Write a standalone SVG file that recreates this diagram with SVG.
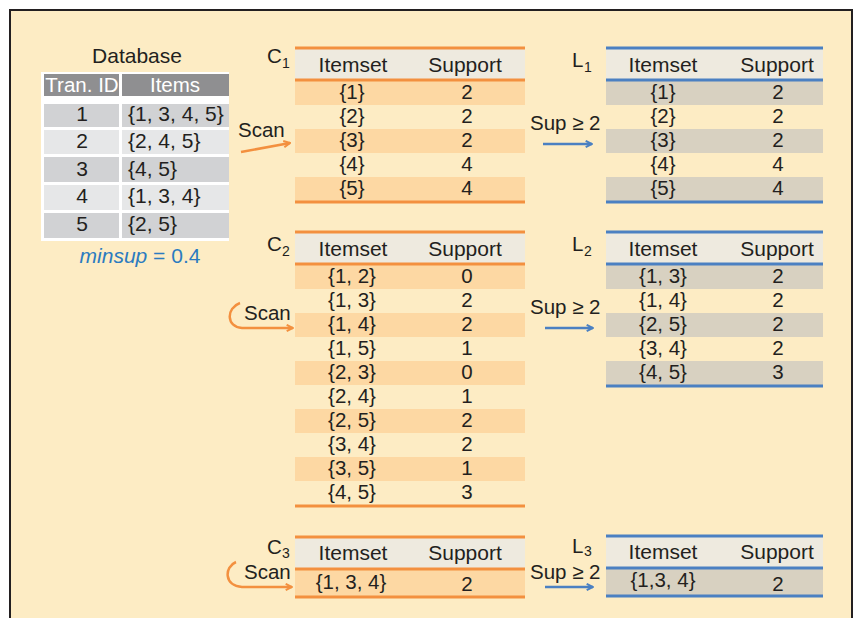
<svg xmlns="http://www.w3.org/2000/svg" width="862" height="618" viewBox="0 0 862 618">
  <style>
    text { font-family: "Liberation Sans", Arial, sans-serif; fill: #231f20; }
    .hd { font-size: 21px; text-anchor: middle; }
    .cell { font-size: 20.5px; text-anchor: middle; }
    .lbl { font-size: 20.5px; }
    .sub { font-size: 14px; }
    .db { font-size: 21px; }
    .dbh { font-size: 20.5px; fill: #ffffff; text-anchor: middle; }
    .hbg { fill: #eeeadf; }
    .orow { fill: #fdd8a3; }
    .grow { fill: #d8d1c1; }
    .oline { stroke: #f3903f; stroke-width: 3; }
    .bline { stroke: #4b80c2; stroke-width: 3; }
    .oarrow { fill: none; stroke: #f3903f; stroke-width: 2.5; }
    .barrow { fill: none; stroke: #4b80c2; stroke-width: 2.5; }
  </style>
  <defs>
    <marker id="headO" viewBox="0 0 10 10" refX="9" refY="5" markerWidth="9" markerHeight="9" orient="auto" markerUnits="userSpaceOnUse">
      <path d="M2,1.5 L9,5 L2,8.5" fill="none" stroke="#f3903f" stroke-width="2.2"/>
    </marker>
    <marker id="headB" viewBox="0 0 10 10" refX="9" refY="5" markerWidth="9" markerHeight="9" orient="auto" markerUnits="userSpaceOnUse">
      <path d="M2,1.5 L9,5 L2,8.5" fill="none" stroke="#4b80c2" stroke-width="2.2"/>
    </marker>
  </defs>

  <!-- panel -->
  <rect x="10" y="10" width="842" height="620" fill="#fdecc4" stroke="#231f20" stroke-width="2"/>

  <!-- transaction database -->
  <g id="database">
    <text class="db" x="137" y="63" text-anchor="middle">Database</text>
    <rect x="41" y="72" width="188" height="169" fill="#ffffff"/>
    <rect x="44" y="74" width="75" height="22" fill="#8f8f91"/>
    <rect x="122" y="74" width="107" height="22" fill="#8f8f91"/>
    <text class="dbh" x="82" y="92">Tran. ID</text>
    <text class="dbh" x="175" y="92">Items</text>
    <rect x="44" y="104" width="75" height="23" fill="#d1d2d4"/>
    <rect x="122" y="104" width="107" height="23" fill="#d1d2d4"/>
    <rect x="44" y="130" width="75" height="24" fill="#e6e7e8"/>
    <rect x="122" y="130" width="107" height="24" fill="#e6e7e8"/>
    <rect x="44" y="157" width="75" height="25" fill="#d1d2d4"/>
    <rect x="122" y="157" width="107" height="25" fill="#d1d2d4"/>
    <rect x="44" y="185" width="75" height="25" fill="#e6e7e8"/>
    <rect x="122" y="185" width="107" height="25" fill="#e6e7e8"/>
    <rect x="44" y="213" width="75" height="25" fill="#d1d2d4"/>
    <rect x="122" y="213" width="107" height="25" fill="#d1d2d4"/>
    <g class="db">
      <text x="82" y="121" text-anchor="middle">1</text><text x="128" y="121">{1, 3, 4, 5}</text>
      <text x="82" y="148" text-anchor="middle">2</text><text x="128" y="148">{2, 4, 5}</text>
      <text x="82" y="176" text-anchor="middle">3</text><text x="128" y="176">{4, 5}</text>
      <text x="82" y="203" text-anchor="middle">4</text><text x="128" y="203">{1, 3, 4}</text>
      <text x="82" y="231" text-anchor="middle">5</text><text x="128" y="231">{2, 5}</text>
    </g>
    <text x="140" y="263" text-anchor="middle" style="font-size:21px;fill:#2b7bc0"><tspan font-style="italic" style="fill:#2b7bc0">minsup</tspan> = 0.4</text>
  </g>

  <!-- C1 -->
  <g id="c1">
    <text class="lbl" x="267" y="63">C</text><text class="sub" x="282" y="68">1</text>
    <rect class="hbg" x="295" y="48" width="230" height="32"/>
    <rect class="orow" x="295" y="81" width="230" height="24"/>
    <rect class="orow" x="295" y="129" width="230" height="24"/>
    <rect class="orow" x="295" y="177" width="230" height="24"/>
    <line class="oline" x1="295" y1="48" x2="525" y2="48"/>
    <line class="oline" x1="295" y1="80" x2="525" y2="80"/>
    <line class="oline" x1="295" y1="202" x2="525" y2="202"/>
    <text class="hd" x="353" y="72">Itemset</text><text class="hd" x="465" y="72">Support</text>
    <text class="cell" x="352" y="99">{1}</text><text class="cell" x="467" y="99">2</text>
    <text class="cell" x="352" y="123">{2}</text><text class="cell" x="467" y="123">2</text>
    <text class="cell" x="352" y="147">{3}</text><text class="cell" x="467" y="147">2</text>
    <text class="cell" x="352" y="171">{4}</text><text class="cell" x="467" y="171">4</text>
    <text class="cell" x="352" y="195">{5}</text><text class="cell" x="467" y="195">4</text>
  </g>

  <!-- L1 -->
  <g id="l1">
    <text class="lbl" x="572" y="67">L</text><text class="sub" x="584" y="72">1</text>
    <rect class="hbg" x="606" y="48" width="217" height="32"/>
    <rect class="grow" x="606" y="81" width="217" height="24"/>
    <rect class="grow" x="606" y="129" width="217" height="24"/>
    <rect class="grow" x="606" y="177" width="217" height="24"/>
    <line class="bline" x1="606" y1="48" x2="823" y2="48"/>
    <line class="bline" x1="606" y1="80" x2="823" y2="80"/>
    <line class="bline" x1="606" y1="202" x2="823" y2="202"/>
    <text class="hd" x="663" y="72">Itemset</text><text class="hd" x="777" y="72">Support</text>
    <text class="cell" x="663" y="99">{1}</text><text class="cell" x="778" y="99">2</text>
    <text class="cell" x="663" y="123">{2}</text><text class="cell" x="778" y="123">2</text>
    <text class="cell" x="663" y="147">{3}</text><text class="cell" x="778" y="147">2</text>
    <text class="cell" x="663" y="171">{4}</text><text class="cell" x="778" y="171">4</text>
    <text class="cell" x="663" y="195">{5}</text><text class="cell" x="778" y="195">4</text>
  </g>

  <!-- C2 -->
  <g id="c2">
    <text class="lbl" x="267" y="251">C</text><text class="sub" x="282" y="256">2</text>
    <rect class="hbg" x="295" y="232" width="230" height="32"/>
    <rect class="orow" x="295" y="265" width="230" height="24"/>
    <rect class="orow" x="295" y="313" width="230" height="24"/>
    <rect class="orow" x="295" y="361" width="230" height="24"/>
    <rect class="orow" x="295" y="409" width="230" height="24"/>
    <rect class="orow" x="295" y="457" width="230" height="24"/>
    <line class="oline" x1="295" y1="232" x2="525" y2="232"/>
    <line class="oline" x1="295" y1="264" x2="525" y2="264"/>
    <line class="oline" x1="295" y1="506" x2="525" y2="506"/>
    <text class="hd" x="353" y="256">Itemset</text><text class="hd" x="465" y="256">Support</text>
    <text class="cell" x="352" y="283">{1, 2}</text><text class="cell" x="467" y="283">0</text>
    <text class="cell" x="352" y="307">{1, 3}</text><text class="cell" x="467" y="307">2</text>
    <text class="cell" x="352" y="331">{1, 4}</text><text class="cell" x="467" y="331">2</text>
    <text class="cell" x="352" y="355">{1, 5}</text><text class="cell" x="467" y="355">1</text>
    <text class="cell" x="352" y="379">{2, 3}</text><text class="cell" x="467" y="379">0</text>
    <text class="cell" x="352" y="403">{2, 4}</text><text class="cell" x="467" y="403">1</text>
    <text class="cell" x="352" y="427">{2, 5}</text><text class="cell" x="467" y="427">2</text>
    <text class="cell" x="352" y="451">{3, 4}</text><text class="cell" x="467" y="451">2</text>
    <text class="cell" x="352" y="475">{3, 5}</text><text class="cell" x="467" y="475">1</text>
    <text class="cell" x="352" y="499">{4, 5}</text><text class="cell" x="467" y="499">3</text>
  </g>

  <!-- L2 -->
  <g id="l2">
    <text class="lbl" x="572" y="251">L</text><text class="sub" x="584" y="256">2</text>
    <rect class="hbg" x="606" y="232" width="217" height="32"/>
    <rect class="grow" x="606" y="265" width="217" height="24"/>
    <rect class="grow" x="606" y="313" width="217" height="24"/>
    <rect class="grow" x="606" y="361" width="217" height="24"/>
    <line class="bline" x1="606" y1="232" x2="823" y2="232"/>
    <line class="bline" x1="606" y1="264" x2="823" y2="264"/>
    <line class="bline" x1="606" y1="386" x2="823" y2="386"/>
    <text class="hd" x="663" y="256">Itemset</text><text class="hd" x="777" y="256">Support</text>
    <text class="cell" x="663" y="283">{1, 3}</text><text class="cell" x="778" y="283">2</text>
    <text class="cell" x="663" y="307">{1, 4}</text><text class="cell" x="778" y="307">2</text>
    <text class="cell" x="663" y="331">{2, 5}</text><text class="cell" x="778" y="331">2</text>
    <text class="cell" x="663" y="355">{3, 4}</text><text class="cell" x="778" y="355">2</text>
    <text class="cell" x="663" y="379">{4, 5}</text><text class="cell" x="778" y="379">3</text>
  </g>

  <!-- C3 -->
  <g id="c3">
    <text class="lbl" x="267" y="554">C</text><text class="sub" x="282" y="558">3</text>
    <rect class="hbg" x="295" y="537" width="230" height="32"/>
    <rect class="orow" x="295" y="570" width="230" height="26"/>
    <line class="oline" x1="295" y1="537" x2="525" y2="537"/>
    <line class="oline" x1="295" y1="569" x2="525" y2="569"/>
    <line class="oline" x1="295" y1="597" x2="525" y2="597"/>
    <text class="hd" x="353" y="560">Itemset</text><text class="hd" x="465" y="560">Support</text>
    <text class="cell" x="351" y="589">{1, 3, 4}</text><text class="cell" x="467" y="591">2</text>
  </g>

  <!-- L3 -->
  <g id="l3">
    <text class="lbl" x="572" y="553">L</text><text class="sub" x="584" y="556">3</text>
    <rect class="hbg" x="606" y="536" width="217" height="32"/>
    <rect class="grow" x="606" y="569" width="217" height="26"/>
    <line class="bline" x1="606" y1="536" x2="823" y2="536"/>
    <line class="bline" x1="606" y1="568" x2="823" y2="568"/>
    <line class="bline" x1="606" y1="596" x2="823" y2="596"/>
    <text class="hd" x="663" y="559">Itemset</text><text class="hd" x="777" y="559">Support</text>
    <text class="cell" x="663" y="587">{1,3, 4}</text><text class="cell" x="778" y="591">2</text>
  </g>

  <!-- connectors -->
  <g id="connectors">
    <text class="lbl" x="238" y="137">Scan</text>
    <path class="oarrow" d="M241,152 L290,143" marker-end="url(#headO)"/>
    <text class="lbl" x="530" y="130">Sup ≥ 2</text>
    <path class="barrow" d="M543,144 L592,144" marker-end="url(#headB)"/>

    <text class="lbl" x="244" y="320">Scan</text>
    <path class="oarrow" d="M240,303 C226,308 226,327 242,328 L293,328" marker-end="url(#headO)"/>
    <text class="lbl" x="530" y="314">Sup ≥ 2</text>
    <path class="barrow" d="M545,328 L593,328" marker-end="url(#headB)"/>

    <text class="lbl" x="244" y="579">Scan</text>
    <path class="oarrow" d="M236,562 C224,567 224,586 242,587 L292,587" marker-end="url(#headO)"/>
    <text class="lbl" x="530" y="579">Sup ≥ 2</text>
    <path class="barrow" d="M545,587 L593,587" marker-end="url(#headB)"/>
  </g>
</svg>
